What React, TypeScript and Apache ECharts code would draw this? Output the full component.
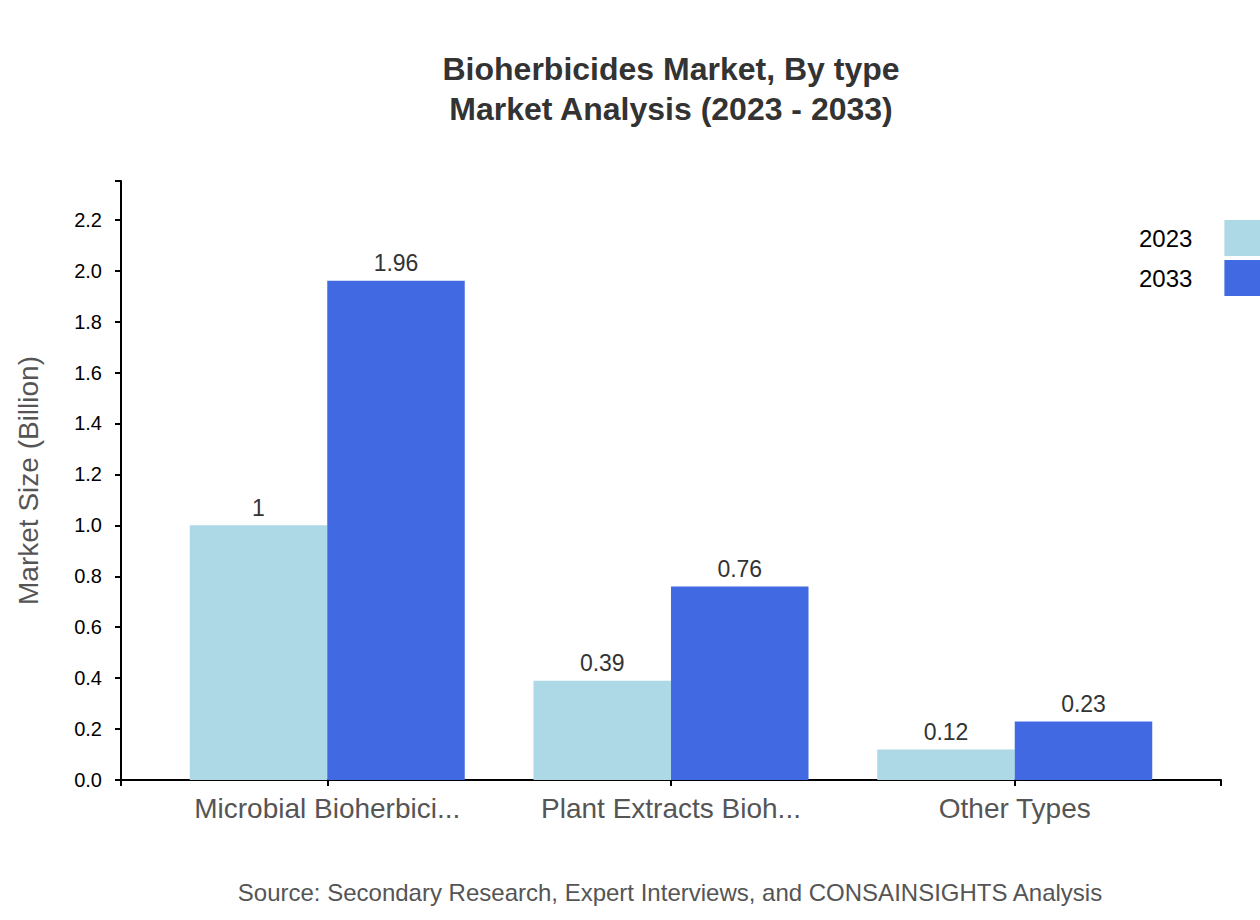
import React, { useEffect, useRef } from "react";
import * as echarts from "echarts";

const categories = ["Microbial Bioherbici...", "Plant Extracts Bioh...", "Other Types"];
const years = ["2023", "2033"];
const values2023 = [1, 0.39, 0.12];
const values2033 = [1.96, 0.76, 0.23];
const colors = ["#ADD8E6", "#4169E1"];
const titleLines = ["Bioherbicides Market, By type", "Market Analysis (2023 - 2033)"];
const sourceText = "Source: Secondary Research, Expert Interviews, and CONSAINSIGHTS Analysis";
const yAxisTitle = "Market Size (Billion)";

const FONT = "'Liberation Sans', Arial, sans-serif";

export default function App() {
  const ref = useRef<HTMLDivElement>(null);

  useEffect(() => {
    document.body.style.margin = "0";
    if (!ref.current) return;
    const chart = echarts.init(ref.current, null, { renderer: "svg" });
    const yMax = Math.max(...values2033) * 1.2;

    // d3-like band layout: axis range 121..1221, paddingInner/Outer 0.2
    const axisLeft = 121;
    const axisRight = 1221;
    const step = (axisRight - axisLeft) / (categories.length - 0.2 + 0.4);
    const barsLeft = axisLeft + 0.2 * step + 0.4 * step - step / 2;
    const barsWidth = step * categories.length;

    const seriesData = [values2023, values2033];

    chart.setOption({
      animation: false,
      textStyle: { fontFamily: FONT },
      grid: [
        { left: barsLeft, width: barsWidth, top: 181, bottom: 140, containLabel: false },
        { left: axisLeft, right: 1260 - axisRight, top: 181, bottom: 140, containLabel: false },
      ],
      xAxis: [
        {
          type: "category",
          gridIndex: 0,
          data: categories,
          axisLine: { show: false },
          axisTick: {
            show: true,
            alignWithLabel: true,
            interval: 0,
            length: 6,
            lineStyle: { color: "#000", width: 2 },
          },
          axisLabel: { interval: 0, hideOverlap: false, fontSize: 28, color: "#555", margin: 14, fontFamily: FONT },
          splitLine: { show: false },
        },
        {
          type: "value",
          gridIndex: 1,
          min: 0,
          max: 1,
          interval: 1,
          axisLine: { show: true, lineStyle: { color: "#000", width: 2 } },
          axisTick: { show: true, length: 6, lineStyle: { color: "#000", width: 2 } },
          axisLabel: { show: false },
          splitLine: { show: false },
        },
      ],
      yAxis: [
        {
          type: "value",
          gridIndex: 0,
          min: 0,
          max: yMax,
          show: false,
          splitLine: { show: false },
        },
        {
          type: "value",
          gridIndex: 1,
          min: 0,
          max: yMax,
          interval: 0.2,
          name: yAxisTitle,
          nameLocation: "middle",
          nameGap: 79,
          nameRotate: 90,
          nameTextStyle: { fontSize: 28, color: "#555", fontFamily: FONT },
          axisLine: { show: true, lineStyle: { color: "#000", width: 2 } },
          axisTick: { show: true, length: 6, lineStyle: { color: "#000", width: 2 } },
          axisLabel: {
            fontSize: 20,
            color: "#000",
            margin: 19,
            fontFamily: FONT,
            formatter: (v: number) => {
              const k = v / 0.2;
              return Math.abs(k - Math.round(k)) < 1e-6 ? v.toFixed(1) : "";
            },
          },
          splitLine: { show: false },
        },
      ],
      legend: {
        orient: "vertical",
        left: 1134,
        top: 215,
        align: "right",
        icon: "rect",
        itemWidth: 40,
        itemHeight: 36,
        itemGap: 4,
        data: years,
        textStyle: { fontSize: 24, color: "#000", fontFamily: FONT, padding: [0, 27, 0, 0] },
      },
      series: years.map((y, i) => ({
        name: y,
        type: "bar",
        xAxisIndex: 0,
        yAxisIndex: 0,
        data: seriesData[i],
        barGap: "0%",
        barCategoryGap: "20%",
        itemStyle: { color: colors[i] },
        label: {
          show: true,
          position: "top",
          distance: 6,
          fontSize: 23,
          color: "#333",
          fontFamily: FONT,
        },
      })),
      graphic: [
        {
          type: "text",
          x: 671,
          y: 69,
          style: {
            text: titleLines[0],
            font: `bold 32px ${FONT}`,
            fill: "#333",
            textAlign: "center",
            textVerticalAlign: "middle",
          },
        },
        {
          type: "text",
          x: 671,
          y: 109,
          style: {
            text: titleLines[1],
            font: `bold 32px ${FONT}`,
            fill: "#333",
            textAlign: "center",
            textVerticalAlign: "middle",
          },
        },
        {
          type: "text",
          x: 670,
          y: 892,
          style: {
            text: sourceText,
            font: `24px ${FONT}`,
            fill: "#555",
            textAlign: "center",
            textVerticalAlign: "middle",
          },
        },
      ],
    });

    return () => chart.dispose();
  }, []);

  return <div ref={ref} style={{ width: 1260, height: 920 }} />;
}
